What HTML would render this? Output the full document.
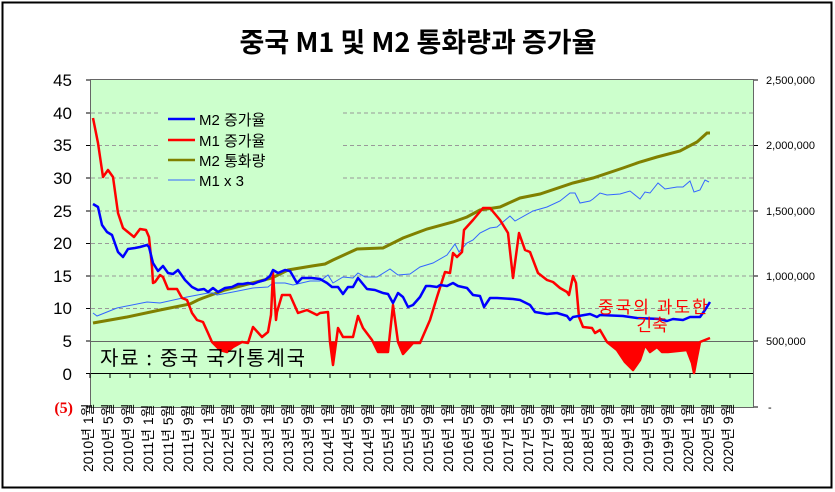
<!DOCTYPE html>
<html><head><meta charset="utf-8"><style>
html,body{margin:0;padding:0;background:#fff;}
svg{display:block;font-family:"Liberation Sans","Noto Sans CJK KR",sans-serif;}
</style></head><body>
<svg width="835" height="492" viewBox="0 0 835 492" xmlns="http://www.w3.org/2000/svg">
<rect x="2.5" y="2.5" width="829" height="485" fill="#fff" stroke="#000" stroke-width="2"/>
<text x="418" y="52" text-anchor="middle" font-size="27" font-weight="bold" font-family="'Noto Sans CJK KR',sans-serif">중국 M1 및 M2 통화량과 증가율</text>
<defs><clipPath id="below"><rect x="90" y="341.5" width="664" height="70"/></clipPath></defs>
<rect x="90.5" y="79.5" width="663" height="328" fill="#ccffcc" stroke="#666" stroke-width="1"/>
<g stroke="#999" stroke-width="1" stroke-dasharray="4,3">
<line x1="91" y1="113" x2="753" y2="113"/><line x1="91" y1="145.5" x2="753" y2="145.5"/>
<line x1="91" y1="178" x2="753" y2="178"/><line x1="91" y1="211" x2="753" y2="211"/>
<line x1="91" y1="243.5" x2="753" y2="243.5"/><line x1="91" y1="276" x2="753" y2="276"/>
<line x1="91" y1="308.5" x2="753" y2="308.5"/>
</g>
<line x1="91" y1="341.5" x2="753" y2="341.5" stroke="#666" stroke-width="1"/>
<line x1="91" y1="373.5" x2="753" y2="373.5" stroke="#000" stroke-width="1"/>
<g stroke="#000" stroke-width="1">
<path d="M90 373v5M110 373v5M130 373v5M150 373v5M170 373v5M190 373v5M210 373v5M230 373v5M250 373v5M270 373v5M290 373v5M310 373v5M330 373v5M350 373v5M370 373v5M390 373v5M410 373v5M430 373v5M450 373v5M470 373v5M490 373v5M510 373v5M530 373v5M550 373v5M570 373v5M590 373v5M610 373v5M630 373v5M650 373v5M670 373v5M690 373v5M710 373v5M730 373v5"/>
<path d="M86 80h4M86 113h4M86 145.5h4M86 178h4M86 211h4M86 243.5h4M86 276h4M86 308.5h4M86 341h4M86 373.5h4M86 407h4"/>
<path d="M754 80h4M754 145.5h4M754 211h4M754 276h4M754 341h4M754 407h4"/>
</g>
<rect x="160" y="104" width="180" height="90" fill="#ccffcc"/>
<g font-size="17" text-anchor="end" fill="#000">
<text x="72" y="86">45</text><text x="72" y="119">40</text><text x="72" y="151">35</text>
<text x="72" y="184">30</text><text x="72" y="217">25</text><text x="72" y="249">20</text>
<text x="72" y="282">15</text><text x="72" y="314">10</text><text x="72" y="347">5</text>
<text x="72" y="380">0</text>
</g>
<text x="73" y="413" font-size="16" font-weight="bold" fill="#e00" text-anchor="end" font-family="'Liberation Serif',serif">(5)</text>
<g font-size="11" fill="#000" text-anchor="start">
<text x="766" y="84">2,500,000</text><text x="766" y="149">2,000,000</text><text x="766" y="215">1,500,000</text>
<text x="766" y="280">1,000,000</text><text x="766" y="345">500,000</text><text x="768" y="411">-</text>
</g>
<polygon clip-path="url(#below)" fill="#ff0000" points="93,341 93,118 98,143 103,177 108,170 113,177 118,213 123,228 134,237 140,229 146,230 149,237 152,267 153,283 155,282 160,275 163,277 168,289 177,289 182,298 187,300 192,313 197,320 203,322 208,333 212,342 220,350 227,352 233,347 242,342 248,343 253,327 262,337 268,332 271,315 273,273 276,320 277,312 282,295 290,295 298,313 307,310 317,315 320,313 328,312 330,342 333,365 336,343 338,328 343,337 353,337 358,316 363,328 372,340 378,352 388,352 393,305 398,342 403,354 413,343 420,343 430,320 437,297 445,272 450,273 453,253 457,257 462,252 464,230 473,220 483,208 490,208 500,220 508,233 513,278 519,233 525,250 530,252 538,273 547,280 553,282 560,288 567,292 569,295 573,276 576,283 579,317 583,327 592,328 595,333 600,330 607,342 617,350 625,362 633,370 640,360 645,345 650,352 657,347 662,352 668,352 687,350 692,363 694,373 697,357 700,342 710,338 710,341"/>
<polyline fill="none" stroke="#808000" stroke-width="3" points="93,323 127,317 160,310 190,304 198,300 203,298 225,290 252,283 272,278 288,270 312,266 325,264 333,260 357,249 383,248 403,238 427,229 453,222 467,217 480,210 500,207 520,198 540,194 573,183 593,178 623,168 640,162 657,157 680,151 697,142 707,133 710,133"/>
<polyline fill="none" stroke="#3366ff" stroke-width="1" points="93,313 97,316 117,308 147,302 160,303 187,297 208,293 213,293 217,295 233,292 253,288 268,287 273,283 285,283 293,285 310,281 320,281 328,275 333,283 343,277 353,278 358,273 365,277 377,277 390,269 398,275 410,274 420,267 433,263 447,255 455,244 459,252 467,243 473,240 480,233 490,228 497,227 510,216 515,221 533,211 547,207 560,201 570,193 575,193 580,203 590,201 593,199 600,193 607,195 620,194 630,191 640,199 645,192 650,193 658,183 665,189 677,187 683,187 690,181 694,192 700,190 705,180 709,182"/>
<polyline fill="none" stroke="#ff0000" stroke-width="2.5" stroke-linejoin="round" points="93,118 98,143 103,177 108,170 113,177 118,213 123,228 134,237 140,229 146,230 149,237 152,267 153,283 155,282 160,275 163,277 168,289 177,289 182,298 187,300 192,313 197,320 203,322 208,333 212,342 220,350 227,352 233,347 242,342 248,343 253,327 262,337 268,332 271,315 273,273 276,320 277,312 282,295 290,295 298,313 307,310 317,315 320,313 328,312 330,342 333,365 336,343 338,328 343,337 353,337 358,316 363,328 372,340 378,352 388,352 393,305 398,342 403,354 413,343 420,343 430,320 437,297 445,272 450,273 453,253 457,257 462,252 464,230 473,220 483,208 490,208 500,220 508,233 513,278 519,233 525,250 530,252 538,273 547,280 553,282 560,288 567,292 569,295 573,276 576,283 579,317 583,327 592,328 595,333 600,330 607,342 617,350 625,362 633,370 640,360 645,345 650,352 657,347 662,352 668,352 687,350 692,363 694,373 697,357 700,342 710,338"/>
<polyline fill="none" stroke="#0000ff" stroke-width="2.5" stroke-linejoin="round" points="93,204 98,207 102,225 107,232 112,235 118,252 123,257 128,249 135,248 140,247 147,245 149,247 153,263 158,271 163,266 168,273 173,274 178,270 185,280 192,287 198,290 204,289 208,292 213,288 218,292 225,288 232,287 238,284 243,284 248,283 253,284 258,282 265,280 270,276 273,270 278,273 285,270 290,271 297,283 302,278 312,278 320,279 327,283 332,287 338,287 343,294 348,287 353,287 358,278 367,289 375,290 383,293 388,294 393,303 398,293 403,297 408,307 413,305 420,297 426,286 430,286 437,287 440,285 447,286 453,283 458,286 467,288 473,295 480,296 484,307 490,298 497,298 513,299 520,300 530,305 535,312 547,314 557,313 567,316 570,320 573,317 590,314 597,317 600,315 623,316 637,318 660,319 667,321 673,319 683,320 690,317 700,317 705,310 710,302"/>
<g stroke-width="2.5">
<line x1="168" y1="119" x2="195" y2="119" stroke="#0000ff"/>
<line x1="168" y1="140" x2="195" y2="140" stroke="#ff0000"/>
<line x1="168" y1="160" x2="195" y2="160" stroke="#808000"/>
<line x1="168" y1="180" x2="195" y2="180" stroke="#3366ff" stroke-width="1"/>
</g>
<g font-size="15" fill="#000" font-family="'Liberation Sans','Noto Sans CJK KR',sans-serif">
<text x="199" y="125">M2 증가율</text><text x="199" y="146">M1 증가율</text>
<text x="199" y="166">M2 통화량</text><text x="199" y="186">M1 x 3</text>
</g>
<text x="100" y="365" font-size="20" fill="#000" textLength="205" font-family="'Noto Sans CJK KR',sans-serif">자료 : 중국 국가통계국</text>
<text x="598" y="313" font-size="17" fill="#ff0000" letter-spacing="2" font-family="'Noto Sans CJK KR',sans-serif">중국의 과도한</text>
<text x="652" y="331" font-size="17" fill="#ff0000" text-anchor="middle" font-family="'Noto Sans CJK KR',sans-serif">긴축</text>
<g font-size="14" fill="#000" font-family="'Liberation Sans','Noto Sans CJK KR',sans-serif">
<text transform="translate(93,472) rotate(-90)">2010년 1월</text>
<text transform="translate(113,472) rotate(-90)">2010년 5월</text>
<text transform="translate(133,472) rotate(-90)">2010년 9월</text>
<text transform="translate(153,472) rotate(-90)">2011년 1월</text>
<text transform="translate(173,472) rotate(-90)">2011년 5월</text>
<text transform="translate(193,472) rotate(-90)">2011년 9월</text>
<text transform="translate(213,472) rotate(-90)">2012년 1월</text>
<text transform="translate(233,472) rotate(-90)">2012년 5월</text>
<text transform="translate(253,472) rotate(-90)">2012년 9월</text>
<text transform="translate(273,472) rotate(-90)">2013년 1월</text>
<text transform="translate(293,472) rotate(-90)">2013년 5월</text>
<text transform="translate(313,472) rotate(-90)">2013년 9월</text>
<text transform="translate(333,472) rotate(-90)">2014년 1월</text>
<text transform="translate(353,472) rotate(-90)">2014년 5월</text>
<text transform="translate(373,472) rotate(-90)">2014년 9월</text>
<text transform="translate(393,472) rotate(-90)">2015년 1월</text>
<text transform="translate(413,472) rotate(-90)">2015년 5월</text>
<text transform="translate(433,472) rotate(-90)">2015년 9월</text>
<text transform="translate(453,472) rotate(-90)">2016년 1월</text>
<text transform="translate(473,472) rotate(-90)">2016년 5월</text>
<text transform="translate(493,472) rotate(-90)">2016년 9월</text>
<text transform="translate(513,472) rotate(-90)">2017년 1월</text>
<text transform="translate(533,472) rotate(-90)">2017년 5월</text>
<text transform="translate(553,472) rotate(-90)">2017년 9월</text>
<text transform="translate(573,472) rotate(-90)">2018년 1월</text>
<text transform="translate(593,472) rotate(-90)">2018년 5월</text>
<text transform="translate(613,472) rotate(-90)">2018년 9월</text>
<text transform="translate(633,472) rotate(-90)">2019년 1월</text>
<text transform="translate(653,472) rotate(-90)">2019년 5월</text>
<text transform="translate(673,472) rotate(-90)">2019년 9월</text>
<text transform="translate(693,472) rotate(-90)">2020년 1월</text>
<text transform="translate(713,472) rotate(-90)">2020년 5월</text>
<text transform="translate(733,472) rotate(-90)">2020년 9월</text>
</g>
</svg>
</body></html>
